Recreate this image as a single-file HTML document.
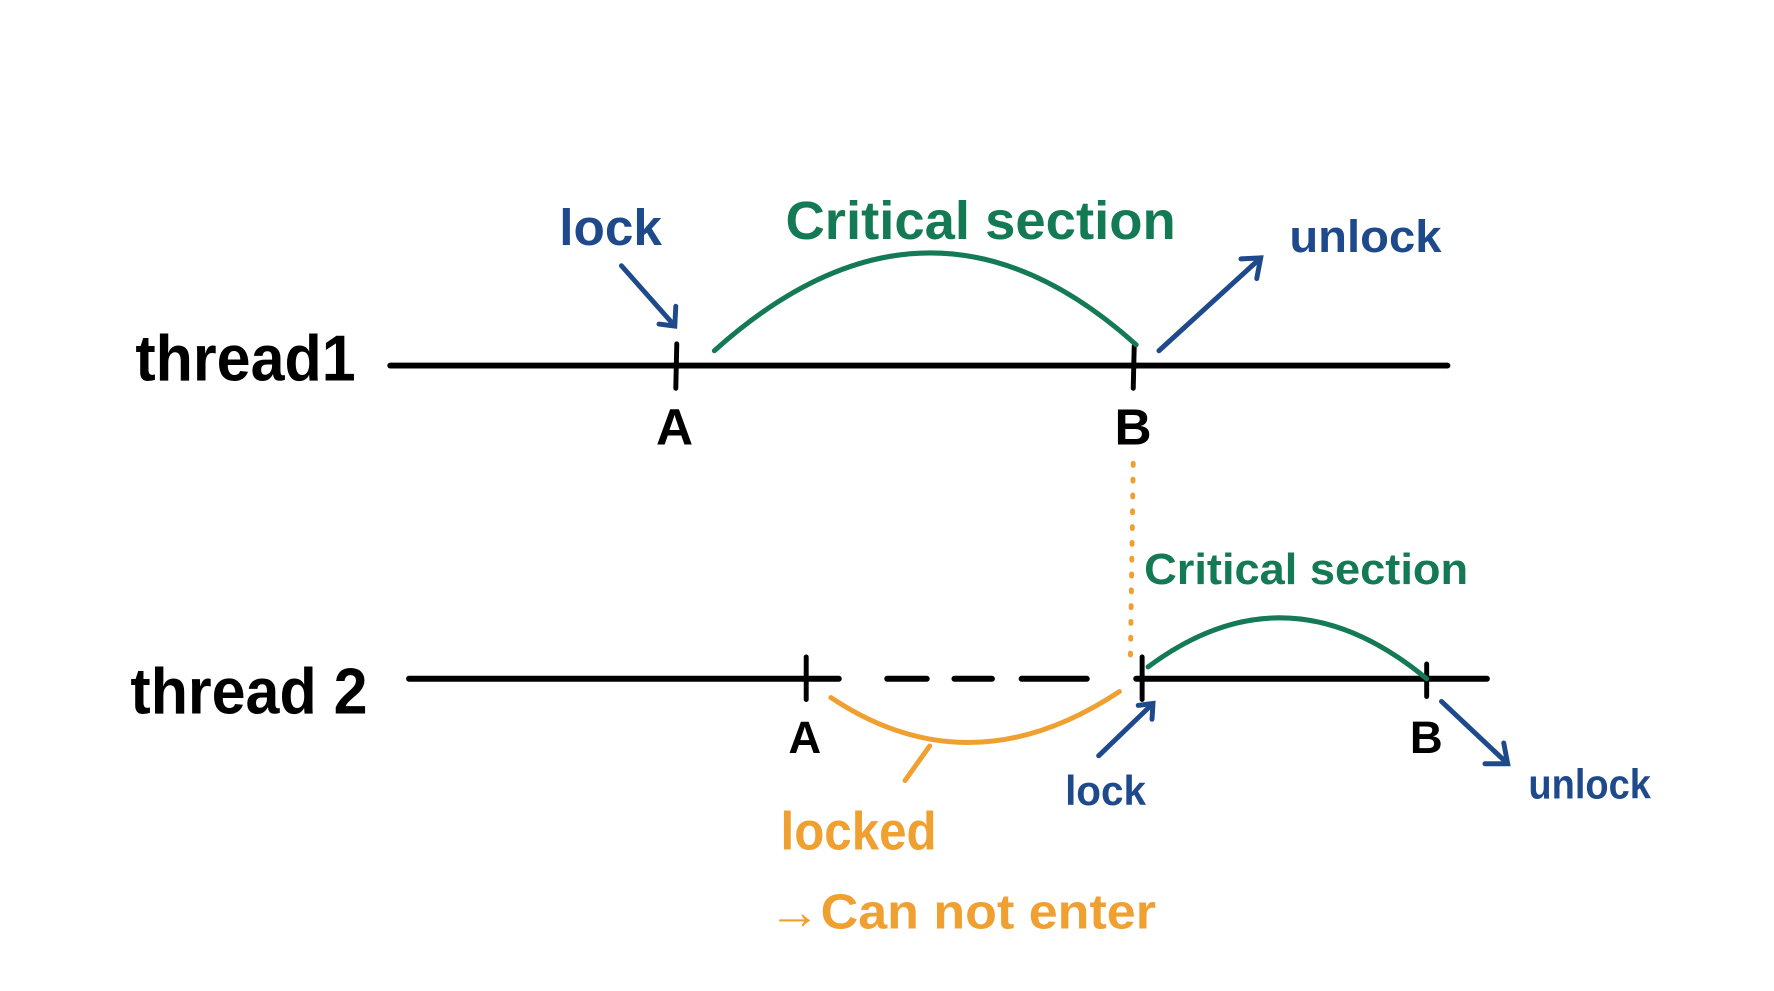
<!DOCTYPE html>
<html><head><style>html,body{margin:0;padding:0;background:#fff}svg{display:block}</style></head>
<body>
<svg width="1774" height="991" viewBox="0 0 1774 991" xmlns="http://www.w3.org/2000/svg" font-family="Liberation Sans, sans-serif">
<g transform="scale(0.988)">
<g stroke-linecap="round" fill="none">
<line x1="395" y1="370" x2="1465" y2="370" stroke="#000" stroke-width="6"/>
<line x1="685" y1="348" x2="684" y2="393" stroke="#000" stroke-width="5"/>
<line x1="1148" y1="350" x2="1147" y2="393" stroke="#000" stroke-width="5"/>
<path d="M723 355 Q940 160 1150 349" stroke="#137a55" stroke-width="5"/>
<path d="M629 269 L683 330 M667 328 L683 330 L684 310" stroke="#1e4a8c" stroke-width="5"/>
<path d="M1173 355 L1276 261 M1256 262 L1276 261 L1272 282" stroke="#1e4a8c" stroke-width="5"/>
<line x1="1147" y1="469" x2="1144" y2="675" stroke="#f0a030" stroke-width="5" stroke-dasharray="2 14"/>
<line x1="414" y1="687" x2="849" y2="687" stroke="#000" stroke-width="6"/>
<path d="M898 687 H938 M966 687 H1004 M1034 687 H1072 M1072 687 H1100" stroke="#000" stroke-width="6"/>
<line x1="1150" y1="687" x2="1505" y2="687" stroke="#000" stroke-width="6"/>
<line x1="816" y1="665" x2="816" y2="708" stroke="#000" stroke-width="5"/>
<line x1="1156" y1="665" x2="1156" y2="708" stroke="#000" stroke-width="5"/>
<line x1="1444" y1="672" x2="1444" y2="705" stroke="#000" stroke-width="5"/>
<path d="M1162 675 Q1303 570 1444 687" stroke="#137a55" stroke-width="5"/>
<path d="M841 706 Q982 800 1133 700" stroke="#f0a030" stroke-width="5"/>
<line x1="941" y1="755" x2="916" y2="790" stroke="#f0a030" stroke-width="5"/>
<path d="M1112 765 L1167 712 M1152 714 L1167 712 L1166 728" stroke="#1e4a8c" stroke-width="5"/>
<path d="M1459 710 L1526 773 M1503 773 L1526 773 L1522 752" stroke="#1e4a8c" stroke-width="5"/>
</g>
<g font-weight="bold">
<text x="137" y="385" font-size="66" textLength="223" lengthAdjust="spacingAndGlyphs" fill="#000">thread1</text>
<text x="132" y="722" font-size="66" textLength="240" lengthAdjust="spacingAndGlyphs" fill="#000">thread 2</text>
<text x="664" y="450" font-size="52" fill="#000">A</text>
<text x="1128" y="450" font-size="52" fill="#000">B</text>
<text x="798" y="762" font-size="46" fill="#000">A</text>
<text x="1427" y="762" font-size="46" fill="#000">B</text>
<text x="566" y="248" font-size="52" textLength="104" lengthAdjust="spacingAndGlyphs" fill="#1e4a8c">lock</text>
<text x="1305" y="255" font-size="46" textLength="154" lengthAdjust="spacingAndGlyphs" fill="#1e4a8c">unlock</text>
<text x="1078" y="815" font-size="42" textLength="82" lengthAdjust="spacingAndGlyphs" fill="#1e4a8c">lock</text>
<text x="1547" y="808" font-size="42" textLength="124" lengthAdjust="spacingAndGlyphs" fill="#1e4a8c">unlock</text>
<text x="795" y="242" font-size="54" textLength="395" lengthAdjust="spacingAndGlyphs" fill="#137a55">Critical  section</text>
<text x="1158" y="591" font-size="44" textLength="328" lengthAdjust="spacingAndGlyphs" fill="#137a55">Critical  section</text>
<text x="790" y="860" font-size="54" textLength="158" lengthAdjust="spacingAndGlyphs" fill="#f0a030">locked</text>
<text x="778" y="940" font-size="50" textLength="392" lengthAdjust="spacingAndGlyphs" fill="#f0a030">→Can not enter</text>
</g>
</g>
</svg>
</body></html>
